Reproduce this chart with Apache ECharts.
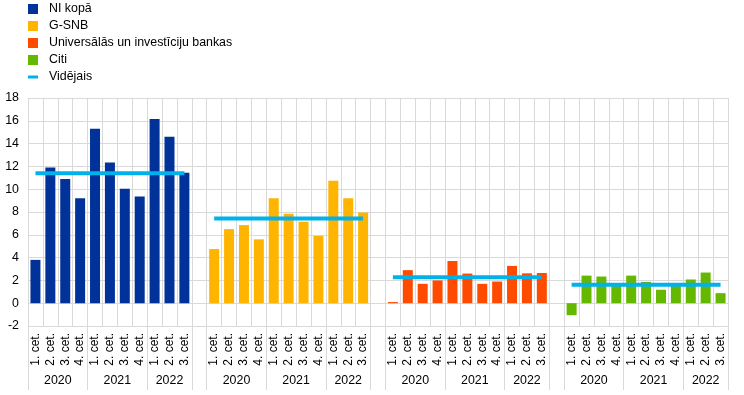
<!DOCTYPE html>
<html>
<head>
<meta charset="utf-8">
<script src="https://cdn.jsdelivr.net/npm/echarts@6/dist/echarts.min.js"></script>
<style>
html,body{margin:0;padding:0;background:#fff;}
#chart{width:744px;height:395px;}
</style>
</head>
<body>
<div id="chart"></div>
<script>
// ---- Data ----
const quarterLabels = ["1. cet.","2. cet.","3. cet.","4. cet.","1. cet.","2. cet.","3. cet.","4. cet.","1. cet.","2. cet.","3. cet."];
const yearLabels = ["2020","2021","2022"];
const yearSpans = [4, 4, 3];
const seriesNames = ["NI kopā", "G-SNB", "Universālās un investīciju bankas", "Citi"];
const avgName = "Vidējais";
const niKopa   = [3.8, 11.9, 10.9, 9.2, 15.3, 12.35, 10.05, 9.35, 16.15, 14.6, 11.45];
const gSnb     = [4.75, 6.5, 6.85, 5.6, 9.2, 7.85, 7.15, 5.9, 10.75, 9.2, 7.95];
const univ     = [0.1, 2.9, 1.7, 2.0, 3.7, 2.6, 1.7, 1.9, 3.27, 2.62, 2.65];
const citi     = [-1.05, 2.42, 2.34, 1.65, 2.42, 1.87, 1.18, 1.6, 2.08, 2.69, 0.88];
const averages = [11.4, 7.43, 2.28, 1.62];
const colors = ["#003299", "#ffb400", "#ff4b00", "#65b800"];
const avgColor = "#00b1ea";

// ---- Build category axis ----
const groups = [niKopa, gSnb, univ, citi];
const n = quarterLabels.length;
const categories = [];
const groupStart = [];
groups.forEach((g, gi) => {
  if (gi > 0) categories.push("");
  groupStart.push(categories.length);
  quarterLabels.forEach(q => categories.push(q));
});
const total = categories.length;

const barSeries = groups.map((g, gi) => {
  const data = new Array(total).fill(null);
  g.forEach((v, i) => { data[groupStart[gi] + i] = v; });
  return {
    name: seriesNames[gi], type: "bar", stack: "all", barWidth: 10,
    xAxisIndex: 0, yAxisIndex: 0,
    itemStyle: { color: colors[gi] }, data: data
  };
});
const avgData = new Array(total).fill(null);
averages.forEach((a, gi) => { for (let i = 0; i < n; i++) avgData[groupStart[gi] + i] = a; });

// year axis positions
const yearTicks = [], yearLabelPos = [], yearLabelMap = {};
groupStart.forEach(s => {
  let p = s;
  yearTicks.push(p);
  yearSpans.forEach((sp, yi) => {
    const c = p + sp / 2;
    yearLabelPos.push(c);
    yearLabelMap[c] = yearLabels[yi];
    p += sp;
    yearTicks.push(p);
  });
});

const chart = echarts.init(document.getElementById("chart"), null, { renderer: "canvas" });
const font = "Liberation Sans, Arial, sans-serif";
chart.setOption({
  animation: false,
  textStyle: { fontFamily: font },
  legend: {
    orient: "vertical", left: 28, top: 2, padding: 0, itemWidth: 10, itemHeight: 10, itemGap: 3,
    symbolKeepAspect: true,
    textStyle: { fontFamily: font, fontSize: 12.4, color: "#000", lineHeight: 14, padding: [0, 0, 0, 6] },
    data: seriesNames.map(s => ({ name: s, icon: "rect" })).concat([{ name: avgName, icon: "path://M0,0 L10,0 L10,3 L0,3 Z" }])
  },
  grid: { left: 28, right: 16, top: 98, bottom: 69, containLabel: false },
  xAxis: [
    {
      type: "category", data: categories, position: "bottom",
      axisLine: { show: false, onZero: false },
      axisTick: { show: false },
      splitLine: { show: true, interval: 0, lineStyle: { color: "#d9d9d9", width: 1 } },
      axisLabel: { interval: 0, rotate: 90, margin: 7, fontSize: 12, color: "#000", fontFamily: font }
    },
    {
      type: "value", min: 0, max: total, position: "bottom",
      axisLine: { show: false, onZero: false },
      splitLine: { show: false },
      axisTick: { show: true, inside: false, length: 64, customValues: yearTicks, lineStyle: { color: "#d9d9d9" } },
      axisLabel: { show: true, customValues: yearLabelPos, margin: 49, fontSize: 12.4, color: "#000", fontFamily: font,
        formatter: v => yearLabelMap[v] || "" }
    }
  ],
  yAxis: {
    type: "value", min: -2, max: 18, interval: 2,
    axisLine: { show: false }, axisTick: { show: false },
    splitLine: { lineStyle: { color: "#d9d9d9", width: 1 } },
    axisLabel: { margin: 9, fontSize: 12.4, color: "#000", fontFamily: font }
  },
  series: barSeries.concat([{
    name: avgName, type: "line", xAxisIndex: 0, yAxisIndex: 0, data: avgData,
    symbol: "none", connectNulls: false, z: 5,
    lineStyle: { color: avgColor, width: 4 }, itemStyle: { color: avgColor }
  }])
});
</script>
</body>
</html>
